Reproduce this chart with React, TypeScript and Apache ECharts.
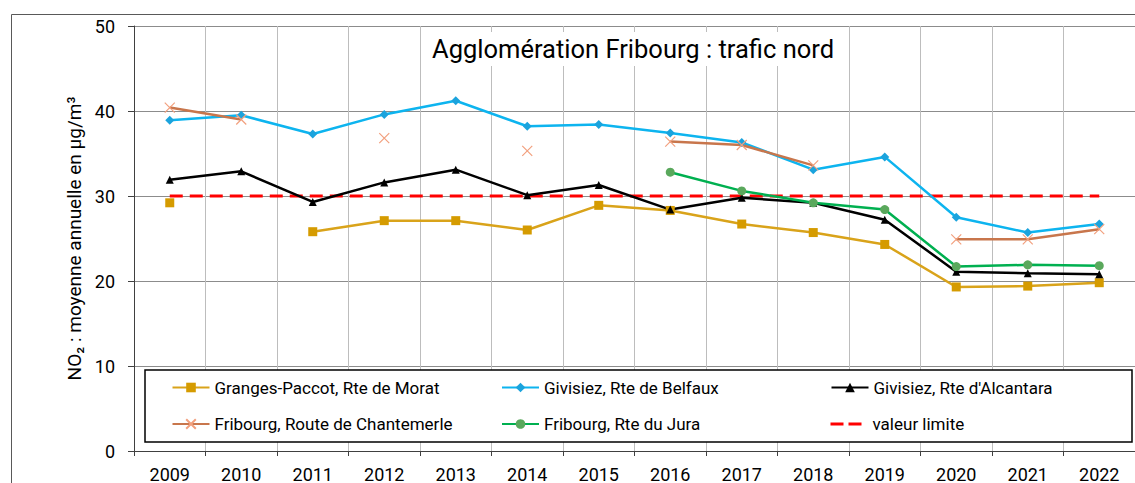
import React, { useEffect, useRef } from "react";
import * as echarts from "echarts";

const years = ["2009", "2010", "2011", "2012", "2013", "2014", "2015", "2016", "2017", "2018", "2019", "2020", "2021", "2022"];
const granges = [29.2, null, 25.8, 27.1, 27.1, 26.0, 28.9, 28.3, 26.7, 25.7, 24.3, 19.3, 19.4, 19.8];
const belfaux = [38.9, 39.5, 37.3, 39.6, 41.2, 38.2, 38.4, 37.4, 36.3, 33.1, 34.6, 27.5, 25.7, 26.7];
const alcantara = [31.9, 32.9, 29.3, 31.6, 33.1, 30.1, 31.3, 28.4, 29.8, 29.2, 27.2, 21.1, 20.9, 20.8];
const chantemerle = [40.4, 39.0, null, 36.8, null, 35.3, null, 36.4, 36.0, 33.6, null, 24.9, 24.9, 26.1];
const jura = [null, null, null, null, null, null, null, 32.8, 30.6, 29.2, 28.4, 21.7, 21.9, 21.8];
const limite = [30, 30, 30, 30, 30, 30, 30, 30, 30, 30, 30, 30, 30, 30];
const yTicks = [0, 10, 20, 30, 40, 50];

const names = {
  granges: "Granges-Paccot, Rte de Morat",
  belfaux: "Givisiez, Rte de Belfaux",
  alcantara: "Givisiez, Rte d'Alcantara",
  chantemerle: "Fribourg, Route de Chantemerle",
  jura: "Fribourg, Rte du Jura",
  limite: "valeur limite",
};

const FONT = "Roboto";
const DASH_ICON = "path://M0,0h0.01v0.01h-0.01Z M37,12h-0.01v-0.01h0.01Z M0,4.5h13v3h-13Z M18,4.5h13v3h-13Z";

export default function App() {
  const ref = useRef<HTMLDivElement>(null);
  useEffect(() => {
    if (!ref.current) return;
    const chart = echarts.init(ref.current, null, { renderer: "svg" });
    const lineSeries = (name: string, data: (number | null)[], lineColor: string, markColor: string, symbol: string, size: number, extra: any = {}) => ({
      name,
      type: "line",
      data,
      connectNulls: false,
      symbol,
      symbolSize: size,
      showAllSymbol: true,
      lineStyle: { color: lineColor, width: 2.5 },
      itemStyle: { color: markColor },
      z: 3,
      ...extra,
    });
    chart.setOption({
      animation: false,
      textStyle: { fontFamily: FONT },
      title: {
        text: "Agglomération Fribourg : trafic nord",
        left: 425,
        top: 32,
        backgroundColor: "#ffffff",
        padding: [4, 7, 4, 7],
        textStyle: { fontSize: 25.5, fontWeight: "normal", color: "#000", fontFamily: FONT, lineHeight: 26 },
      },
      grid: { left: 134, top: 26, width: 1012, height: 425 },
      graphic: [
        {
          type: "rect",
          shape: { x: 11.5, y: 14.5, width: 1300, height: 700 },
          style: { fill: "none", stroke: "#595959", lineWidth: 1 },
          z: 0,
          silent: true,
        },
        {
          type: "rect",
          shape: { x: 145, y: 370, width: 987, height: 72 },
          style: { fill: "#ffffff", stroke: "#000000", lineWidth: 1.5 },
          z: 3.5,
          silent: true,
        },
      ],
      legend: {
        left: 171.5,
        top: 377.5,
        width: 980,
        padding: 0,
        itemWidth: 37,
        itemHeight: 12,
        itemGap: 16.5,
        z: 5,
        textStyle: { fontSize: 17, color: "#000", fontFamily: FONT, width: 270, lineHeight: 20 },
        data: [
          names.granges,
          names.belfaux,
          names.alcantara,
          names.chantemerle,
          names.jura,
          { name: names.limite, icon: DASH_ICON, itemStyle: { color: "#ff0000", borderWidth: 0 } },
        ],
      },
      xAxis: {
        type: "category",
        data: years,
        boundaryGap: true,
        axisLine: { lineStyle: { color: "#404040", width: 1 } },
        axisTick: { show: true, length: 5, lineStyle: { color: "#404040" } },
        axisLabel: { fontSize: 18, color: "#000", margin: 14, fontFamily: FONT },
        splitLine: { show: true, lineStyle: { color: "#bdbdbd", width: 1 } },
      },
      yAxis: {
        type: "value",
        min: 0,
        max: 50,
        interval: 10,
        name: "NO₂ : moyenne annuelle en µg/m³",
        nameLocation: "middle",
        nameGap: 45,
        nameRotate: 90,
        nameTextStyle: { fontSize: 19, color: "#000", fontFamily: FONT },
        axisLine: { show: true, lineStyle: { color: "#404040", width: 1 } },
        axisTick: { show: true, length: 6, lineStyle: { color: "#404040" } },
        axisLabel: { fontSize: 18, color: "#000", margin: 19, fontFamily: FONT, formatter: (v: number) => (yTicks.includes(v) ? String(v) : "") },
        splitLine: { show: true, lineStyle: { color: "#8c8c8c", width: 1 } },
      },
      series: [
        {
          name: names.limite,
          type: "line",
          data: limite,
          symbol: "none",
          lineStyle: { color: "#ff0000", width: 3, type: [13, 7] },
          itemStyle: { color: "#ff0000" },
          z: 2,
        },
        lineSeries(names.granges, granges, "#d9a31a", "#d59b00", "rect", 9),
        lineSeries(names.belfaux, belfaux, "#0db4ef", "#1ba3dd", "diamond", 9),
        lineSeries(names.alcantara, alcantara, "#000000", "#000000", "triangle", 8),
        lineSeries(names.chantemerle, chantemerle, "#c8764c", "#f2a07e", "path://M0,0L10,10M10,0L0,10", 10, {
          itemStyle: { color: "#f2a07e", borderColor: "#f2a07e", borderWidth: 1.2 },
        }),
        lineSeries(names.jura, jura, "#00b050", "#5aa85c", "circle", 9),
      ],
    });
    return () => chart.dispose();
  }, []);
  return <div ref={ref} style={{ position: "absolute", left: 0, top: 0, width: 1135, height: 483, background: "#fff" }} />;
}
